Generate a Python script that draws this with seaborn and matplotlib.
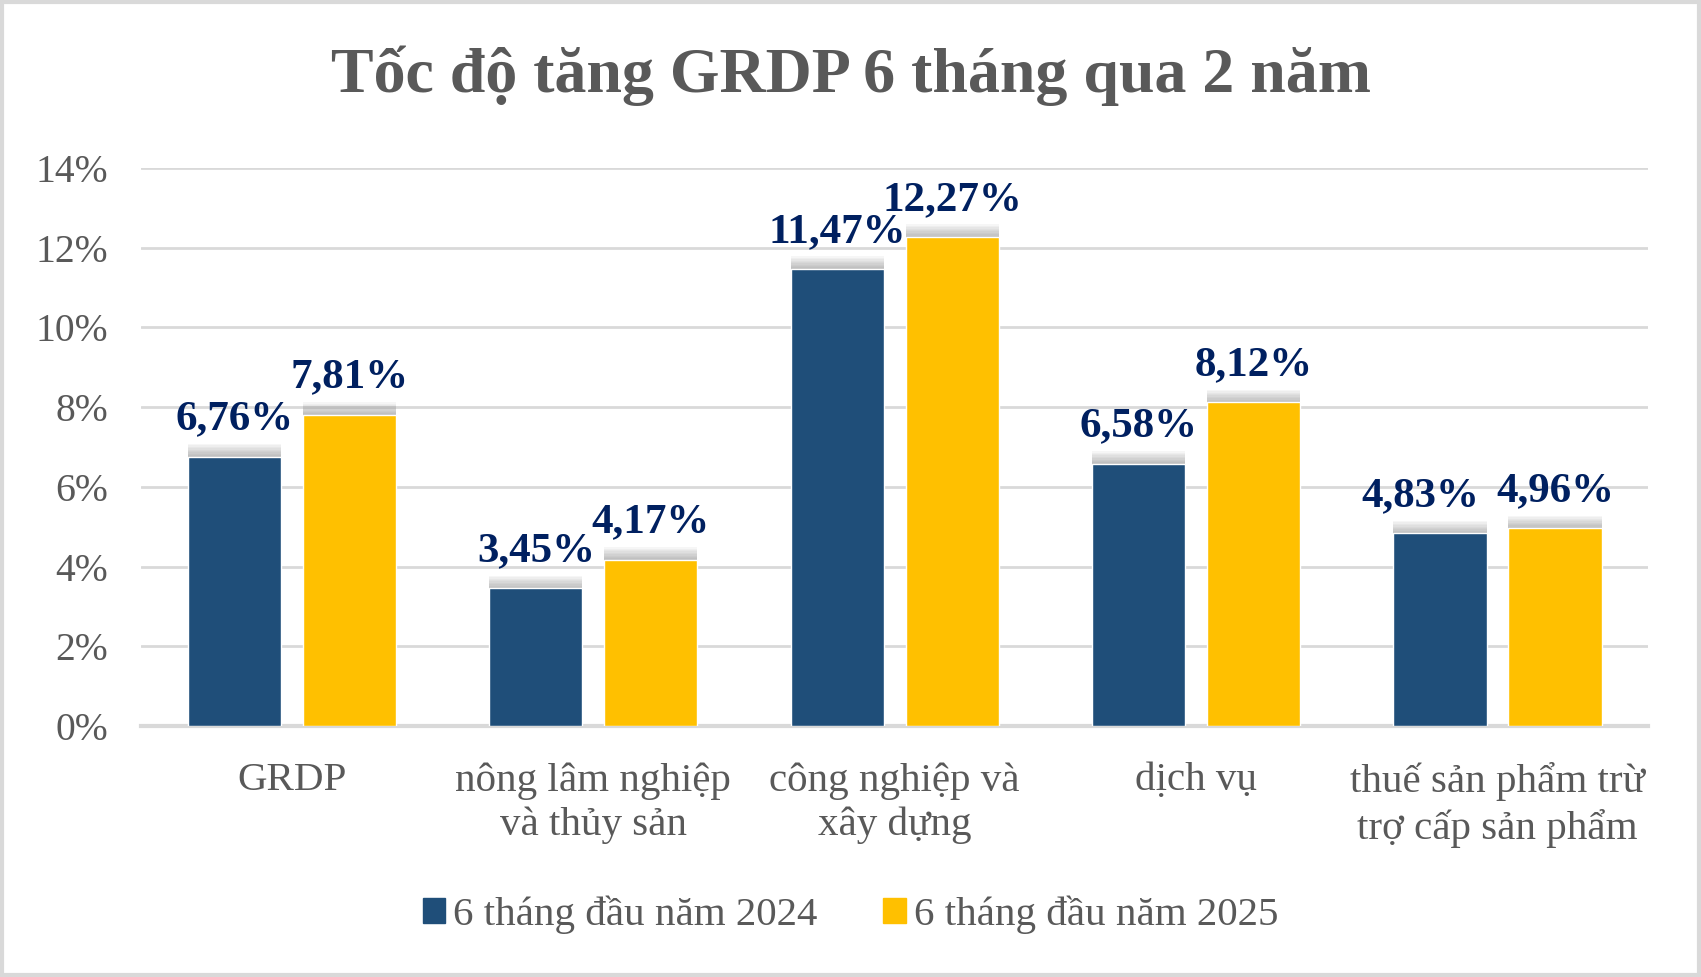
import matplotlib
matplotlib.use("Agg")
import matplotlib.pyplot as plt
import matplotlib.patheffects as pe
import pandas as pd
import seaborn as sns

categories = [
    "GRDP",
    "nông lâm nghiệp\nvà thủy sản",
    "công nghiệp và\nxây dựng",
    "dịch vụ",
    "thuế sản phẩm trừ\ntrợ cấp sản phẩm",
]
series_names = ["6 tháng đầu năm 2024", "6 tháng đầu năm 2025"]
values_2024 = [6.76, 3.45, 11.47, 6.58, 4.83]
values_2025 = [7.81, 4.17, 12.27, 8.12, 4.96]
y_ticks = [0, 2, 4, 6, 8, 10, 12, 14]

df = pd.DataFrame({
    "cat": categories * 2,
    "series": [series_names[0]] * 5 + [series_names[1]] * 5,
    "value": values_2024 + values_2025,
})

sns.set_theme(style="white")
plt.rcParams["font.family"] = ["Liberation Serif", "DejaVu Serif"]

fig = plt.figure(figsize=(17.01, 9.77), dpi=100)
ax = fig.add_axes([0.083, 0.257, 0.886, 0.571])

palette = {series_names[0]: "#1F4E79", series_names[1]: "#FFC000"}
sns.barplot(data=df, x="cat", y="value", hue="series", palette=palette,
            width=0.763, gap=0.19, ax=ax, saturation=1, zorder=3)

# soft grey glow above the bars, built from a few stacked shadows
shadow = [pe.SimplePatchShadow(offset=(0, k), shadow_rgbFace="#707070", alpha=0.06)
          for k in (9, 8, 7, 6, 5, 4, 3, 2, 1)]
for bar in ax.patches:
    bar.set_path_effects(shadow + [pe.Normal()])

for cont in ax.containers:
    anns = ax.bar_label(cont, labels=[f"{v:.2f}%".replace(".", ",") for v in cont.datavalues],
                        padding=13, fontsize=31, fontweight="bold", color="#002060")
    if cont is ax.containers[0]:
        # last 2024 label is nudged left so it does not collide with its neighbour
        anns[-1].xyann = (-14, 13)

ax.set_ylim(0, 14)
ax.set_yticks(y_ticks)
ax.set_yticklabels([f"{t}%" for t in y_ticks], fontsize=28.5, color="#595959")
ax.tick_params(axis="x", labelsize=29.5, labelcolor="#595959", length=0, pad=26)
ax.tick_params(axis="y", length=0, pad=24)
ax.set_xlabel("")
ax.set_ylabel("")
ax.grid(axis="y", color="#D9D9D9", linewidth=2, zorder=0)
for s in ["top", "right", "left"]:
    ax.spines[s].set_visible(False)
ax.spines["bottom"].set_color("#D9D9D9")
ax.spines["bottom"].set_linewidth(3)
for lbl in ax.get_xticklabels():
    lbl.set_verticalalignment("top")
    lbl.set_linespacing(1.25)

ax.legend_.remove()
handles = [plt.Rectangle((0, 0), 1, 1, color=palette[n]) for n in series_names]
fig.legend(handles, series_names, loc="center", bbox_to_anchor=(0.5, 0.064), ncol=2,
           frameon=False, fontsize=29.5, labelcolor="#595959", handlelength=0.55,
           handleheight=0.55, handletextpad=0.2, columnspacing=1.6)

fig.text(0.5, 0.922, "Tốc độ tăng GRDP 6 tháng qua 2 năm", ha="center", va="center",
         fontsize=46, fontweight="bold", color="#595959")

fig.patches.append(plt.Rectangle((0.001, 0.002), 0.998, 0.996, transform=fig.transFigure,
                                 fill=False, edgecolor="#D9D9D9", linewidth=3))

fig.savefig("out.png", dpi=100, facecolor="white")
